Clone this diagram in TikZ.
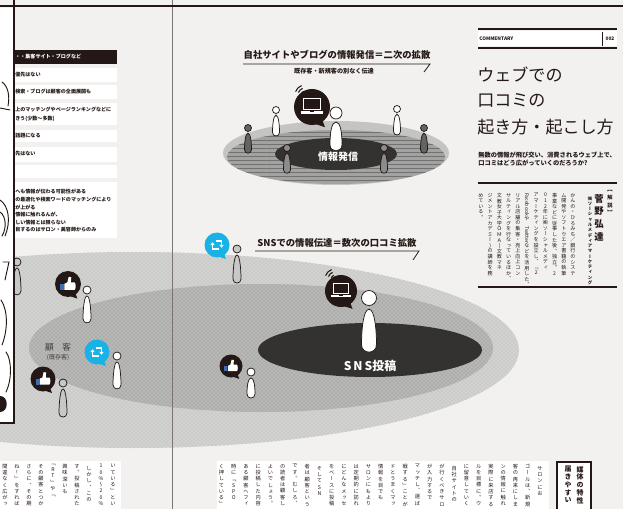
\documentclass[tikz,border=0pt]{standalone}
\usepackage{fontspec}
\setmainfont{Noto Sans CJK JP}
\newfontfamily\tatefont{Noto Sans CJK JP}[RawFeature=+vert]
\usepackage{graphicx}
\usetikzlibrary{arrows.meta, patterns, positioning}

\definecolor{PageGray}{RGB}{242,241,239}
\definecolor{Ink}{RGB}{35,24,21}
\definecolor{ToneLight}{RGB}{210,210,208}
\definecolor{ToneMid}{RGB}{184,184,183}
\definecolor{ToneTop}{RGB}{162,162,161}
\definecolor{CoreGray}{RGB}{52,50,49}
\definecolor{FigDark}{RGB}{100,100,100}
\definecolor{FigMid}{RGB}{140,140,140}
\definecolor{FigLight}{RGB}{200,200,200}
\definecolor{LikeBlue}{RGB}{60,110,180}
\definecolor{RtCyan}{RGB}{25,178,230}

% tategaki: one glyph per line, latin words turned with \yoko
\newcommand\yoko[1]{\rotatebox{-90}{#1}}
\def\tatestep#1{\ifx\relax#1\else\hbox to 1em{\hss#1\hss}\expandafter\tatestep\fi}
\newcommand\tate[2][1.15em]{\vbox{\tatefont\baselineskip=#1\lineskiplimit=0pt\lineskip=.5pt\expandafter\tatestep#2\relax}}

\tikzset{
  diagtitle/.style={font=\fontsize{7}{8}\selectfont\bfseries, text=Ink, inner sep=0pt},
  diagsub/.style={font=\fontsize{4.6}{5}\selectfont\bfseries, text=Ink, inner sep=0pt},
  corelabel/.style={font=\fontsize{7.5}{8}\selectfont\bfseries, text=white, inner sep=0pt},
  rowtext/.style={font=\fontsize{3.8}{5.7}\selectfont\bfseries, text=Ink, anchor=west, inner sep=0pt, align=left},
  tatecol/.style={anchor=north, inner sep=0pt, text=Ink, font=\fontsize{3.9}{4.5}\selectfont},
  bigtitle/.style={font=\fontsize{12.8}{14}\selectfont, text=Ink, anchor=west, inner sep=0pt},
  leadtext/.style={font=\fontsize{4.7}{6.5}\selectfont\bfseries, text=Ink, anchor=west, inner sep=0pt, align=left},
  heavyrule/.style={Ink, line width=2.2pt},
  pics/person/.style 2 args={code={
    \filldraw[fill=#1, draw=Ink, line width=.55pt] (0,0) circle (1);
    \filldraw[fill=#1, draw=Ink, line width=.55pt] (0,1.5) .. controls (0.75,1.5) and (1,{#2-3}) .. (1,{#2-1})
      .. controls (1,{#2+0.35}) and (-1,{#2+0.35}) .. (-1,{#2-1})
      .. controls (-1,{#2-3}) and (-0.75,1.5) .. cycle;
  }},
  pics/laptop/.style={code={
    \fill[Ink] (0,0) circle (1);
    \fill[Ink] (50:0.85) -- (0.72,1.12) -- (80:0.95) -- cycle;
    \draw[white, line width=.9pt] (-0.48,-0.48) rectangle (0.48,0.16);
    \fill[white] (-0.62,0.24) rectangle (0.62,0.38);
    \fill[Ink] (-0.1,0.24) rectangle (0.1,0.29);
  }},
  pics/like/.style={code={
    \fill[Ink] (0,0) circle (1);
    \fill[Ink] (50:0.85) -- (0.72,1.12) -- (80:0.95) -- cycle;
    \fill[LikeBlue] (-0.58,-0.02) rectangle (-0.33,0.45);
    \fill[white] (-0.27,-0.02) -- (-0.05,-0.12) -- (0.05,-0.55) -- (0.25,-0.52) -- (0.22,-0.12)
      -- (0.5,-0.12) .. controls (0.62,-0.12) and (0.62,0.45) .. (0.5,0.45) -- (-0.27,0.45) -- cycle;
  }},
  pics/retweet/.style={code={
    \fill[RtCyan] (0,0) circle (1);
    \fill[RtCyan] (50:0.85) -- (0.72,1.12) -- (80:0.95) -- cycle;
    \draw[white, line width=.9pt, -{Triangle[length=2.2pt,width=3.2pt]}] (0.12,0.32) -- (-0.36,0.32) -- (-0.36,-0.22);
    \draw[white, line width=.9pt, -{Triangle[length=2.2pt,width=3.2pt]}] (-0.12,-0.32) -- (0.36,-0.32) -- (0.36,0.22);
  }},
}

\begin{document}
\begin{tikzpicture}[x=0.75pt, y=-0.75pt]
\useasboundingbox (0,0) rectangle (623,509);
\fill[PageGray] (0,0) rectangle (623,509);

% upper spread: own site / blog
\fill[ToneLight!70!ToneTop] (336,153) ellipse [x radius=113, y radius=32];
\fill[ToneTop] (336,157) ellipse [x radius=109, y radius=27];
\fill[pattern=horizontal lines, pattern color=ToneTop!70!black] (336,157) ellipse [x radius=109, y radius=27];
\fill[CoreGray] (336,154) ellipse [x radius=61, y radius=16];

% lower spread: SNS rings
\fill[ToneLight] (134,350) ellipse [x radius=385, y radius=98];
\fill[pattern=crosshatch dots, pattern color=ToneMid] (134,350) ellipse [x radius=385, y radius=98];
\fill[ToneMid] (261,348) ellipse [x radius=232, y radius=64];
\fill[pattern=crosshatch dots, pattern color=ToneMid!75!black] (261,348) ellipse [x radius=232, y radius=64];
\fill[CoreGray] (370,350) ellipse [x radius=112, y radius=27];

\pic[scale=4] at (17,262) {person={FigLight}{8.2}};

% comic strip on the left edge
\fill[white] (0,8) rectangle (14,423);
\draw[Ink, line width=.7pt, line cap=round]
  (2,82) .. controls (8,86) and (10,96) .. (8,106)
  (0,108) -- (10,110)
  (0,200) .. controls (9,206) and (11,222) .. (5,236)
  (0,212) .. controls (6,216) and (7,228) .. (2,236)
  (3,262) -- (9,262) -- (5,280)
  (1,300) .. controls (8,310) and (8,330) .. (2,345)
  (6,352) .. controls (12,360) and (12,380) .. (6,392);
\fill[Ink] (0,396) .. controls (9,396) and (9,412) .. (0,412) -- cycle;

% table
\fill[Ink] (14,50) rectangle (117,64);
\foreach \ya/\yb in {68/82, 85/99, 103/125, 130/142, 147/162, 165/178, 182/238}
  \fill[white] (14,\ya) rectangle (117,\yb);
\node[rowtext, text=white] (hd) at (15,57) {・・集客サイト・ブログなど};
\node[rowtext] (ra) at (15,75) {優先はない};
\node[rowtext] (rb) at (15,92) {検索・ブログは顧客の全面展開も};
\node[rowtext, font=\fontsize{3.8}{6.8}\selectfont\bfseries] (rc) at (15,114) {上のマッチングやページランキングなどに\\きう(少数〜多数)};
\node[rowtext] (rd) at (15,136) {話題になる};
\node[rowtext] (re) at (15,154) {先はない};
\node[rowtext] (rg) at (15,211) {へも情報が伝わる可能性がある\\の最適化や検索ワードのマッチングにより\\が上がる\\情報に触れるんが、\\しい情報とは限らない\\目するのはサロン・美容師からのみ};
\draw[Ink, line width=1.5pt] (14,0) -- (14,423) -- (0,423);

\draw[Ink!60, line width=.5pt] (172,0) -- (172,509);
\draw[Ink, line width=1.6pt] (0,6) -- (623,6);

% headings of both diagrams
\node[diagtitle] (t1) at (337,55) {自社サイトやブログの情報発信＝二次の拡散};
\draw[Ink, line width=.6pt] (243,64) -- (430,64) -- (424,72);
\node[diagsub] (s1) at (334,71) {既存客・新規客の別なく伝達};
\node[corelabel] (c1) at (338,157) {情報発信};
\node[diagtitle] (t2) at (337,243) {SNSでの情報伝達＝数次の口コミ拡散};
\draw[Ink, line width=.6pt] (255,251) -- (419,251) -- (413,260);
\node[corelabel, font=\fontsize{9}{10}\selectfont\bfseries] (c2) at (370,366) {S\,N\,S投稿};
\node[font=\fontsize{6.5}{7}\selectfont, text=Ink!85] (k1) at (58,347) {顧　客};
\node[font=\fontsize{4.5}{5}\selectfont, text=Ink!85] (k2) at (58,358) {(既存客)};

% people, upper
\pic[scale=3.5] at (248,128) {person={FigDark}{7.2}};
\pic[scale=3.5] at (276,110) {person={white}{7.4}};
\pic[scale=6] at (336,113) {person={white}{6.3}};
\pic[scale=3.5] at (397,109) {person={white}{7.4}};
\pic[scale=3.5] at (424,128) {person={FigDark}{7.2}};
\pic[scale=3.5] at (287,148) {person={FigMid}{7.2}};
\pic[scale=3.5] at (384,148) {person={FigMid}{7.2}};
\pic[scale=18] at (312,107) {laptop};
\foreach \rr in {4,7,10}
  \draw[Ink, line width=.8pt] (305,95) ++(200:\rr) arc[start angle=200, end angle=250, radius=\rr];

% people, lower
\pic[scale=7.5] at (369,298) {person={white}{7.2}};
\pic[scale=16] at (341,291) {laptop};
\foreach \rr in {4,7,10}
  \draw[Ink, line width=.8pt] (335,279) ++(200:\rr) arc[start angle=200, end angle=250, radius=\rr];
\pic[scale=4] at (237,249) {person={FigLight}{8.5}};
\pic[scale=12.5] at (217,245) {retweet};
\pic[scale=4] at (251,372) {person={white}{6.5}};
\pic[scale=11.5] at (231,366) {like};
\pic[scale=4] at (87,290) {person={white}{8.2}};
\pic[scale=13] at (68,284) {like};
\pic[scale=4] at (117,356) {person={white}{8.2}};
\pic[scale=12.5] at (97,352) {retweet};
\pic[scale=4] at (63,383) {person={FigLight}{8.5}};
\pic[scale=12.5] at (43,379) {like};

% commentary column
\draw[heavyrule] (478,29) -- (617,29);
\fill[white] (478,31) rectangle (617,46);
\node[font=\fontsize{3.6}{4}\selectfont\bfseries, text=Ink, anchor=west, inner sep=0pt] (cm) at (479,39) {COMMENTARY};
\draw[Ink, line width=.6pt] (602,32) -- (602,46);
\node[font=\fontsize{3.6}{4}\selectfont\bfseries, text=Ink, inner sep=0pt] (no) at (610,39) {002};
\draw[heavyrule] (478,48) -- (617,48);
\node[bigtitle] (h1) at (477,75) {ウェブでの};
\node[bigtitle] (h2) at (477,101) {口コミの};
\node[bigtitle] (h3) at (477,127) {起き方・起こし方};
\node[leadtext] (ld) at (478,159) {無数の情報が飛び交い、消費されるウェブ上で、\\口コミはどう広がっていくのだろうか?};
\draw[heavyrule] (478,183) -- (617,183);
\node[tatecol, font=\fontsize{3.9}{4.5}\selectfont\bfseries] (ks) at (610,190) {\tate[1.5em]{【解説】}};
\node[tatecol, font=\fontsize{7}{8}\selectfont\bfseries] (nm) at (599,194) {\tate[1.35em]{菅野弘達}};
\node[tatecol, font=\fontsize{3.3}{4}\selectfont\bfseries] (co) at (590,196) {\tate[1.2em]{㈱ソーシャルメディアマーケティング}};
\foreach \s [count=\i] in {かんの・ひろみち／銀行のシステ, ム開発やソフトウエア書籍の執筆, 事業などに従事した後、独立。2, 012年に㈱ソーシャルメディ, アマーケティングを設立し、『2, {\yoko{Facebook}}や{\yoko{Twitter}}などを活用した、, リアル店舗の集客・売上向上コン, サルティングを行なっているほか、, 文教女子大学ＯＭＡ(文教マネ, ジメントアカデミー)の講師を務, めている。}
  \node[tatecol, font=\fontsize{3.8}{4.4}\selectfont] (bio\i) at ({573-9.2*(\i-1)},193) {\tate[1.1em]{\s}};
\draw[heavyrule] (478,287) -- (617,287);

% body text along the foot of both pages
\fill[white] (0,461) rectangle (121,509);
\fill[white] (217,461) rectangle (549,509);
\foreach \s [count=\i] in {いている」とい, 10\%〜20\%, 　しかし、この, す。投稿された, 興味深いも, 「RT」や「, その顧客とつか, さらに、その期, ね！」をすれば, 間違なく広がっ}
  \node[tatecol] (lp\i) at ({113-12*(\i-1)},464) {\tate[1.2em]{\s}};
\foreach \s [count=\i] in {　サロンにお, ゴールは、新規, 客の再来にしま, ンの情報に触れ, 実際に来店する, ルを目標に。ウ, に留意していく, 　自社サイトの, が行くべきサロ, が入力するで, マッチし、選ば, 戦する」ことが, ドとうまくマッ, 情報を目でも, サロンにもより, は定期的に訪れ, にどんなメッセ, をベースに投稿, 　そしてSN, 者は顧客という, です。むしろ、, の読者は顧客し, よいでしょう。, に投稿した内容, ある顧客へフィ, 時に「SPO, く押している」}
  \node[tatecol] (rp\i) at ({540-12.25*(\i-1)},464) {\tate[1.2em]{\s}};
\fill[white] (557,462) rectangle (591,520);
\draw[Ink, line width=2.2pt] (557,462) rectangle (591,520);
\node[tatecol, font=\fontsize{5.2}{6}\selectfont\bfseries] (bx1) at (580,466) {\tate[1.12em]{媒体の特性}};
\node[tatecol, font=\fontsize{5.2}{6}\selectfont\bfseries] (bx2) at (568,466) {\tate[1.12em]{届きやすい}};
\end{tikzpicture}
\end{document}
